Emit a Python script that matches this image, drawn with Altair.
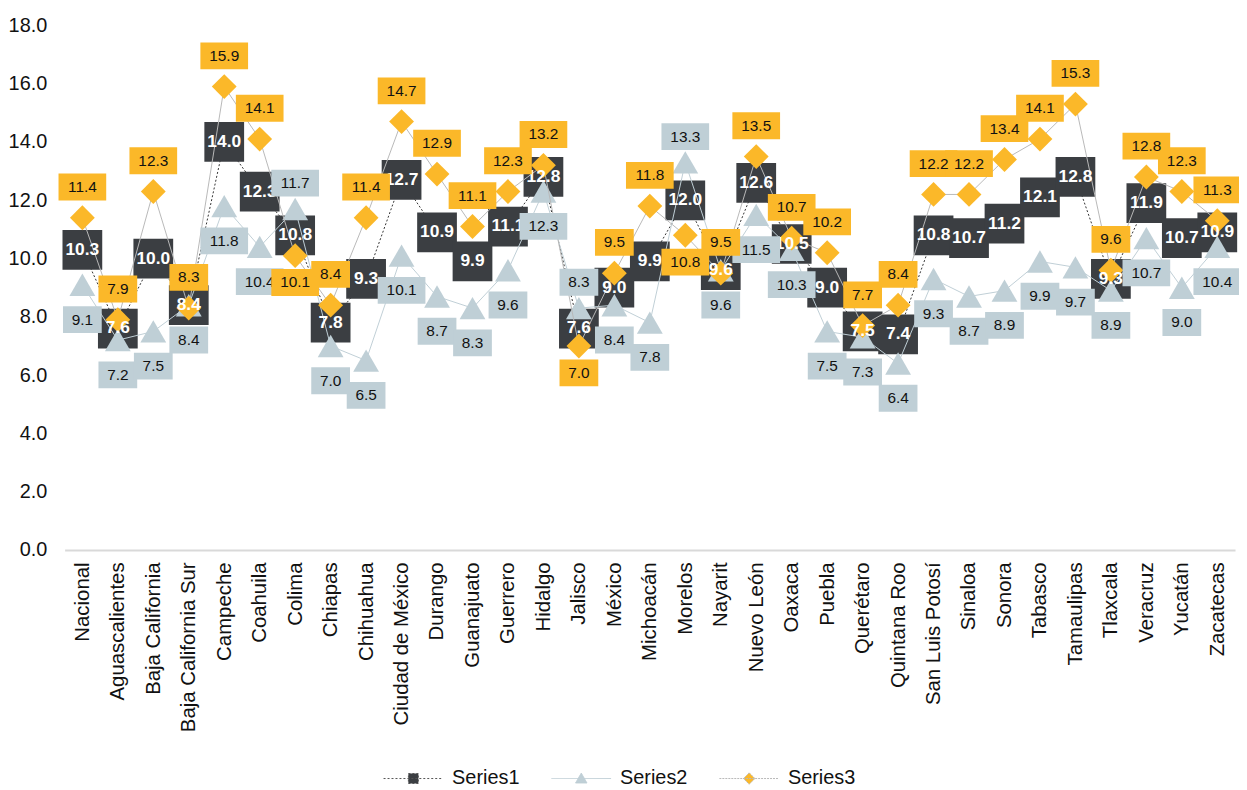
import json
import altair as alt
import pandas as pd

categories = [
    "Nacional", "Aguascalientes", "Baja California", "Baja California Sur", "Campeche",
    "Coahuila", "Colima", "Chiapas", "Chihuahua", "Ciudad de México", "Durango",
    "Guanajuato", "Guerrero", "Hidalgo", "Jalisco", "México", "Michoacán", "Morelos",
    "Nayarit", "Nuevo León", "Oaxaca", "Puebla", "Querétaro", "Quintana Roo",
    "San Luis Potosí", "Sinaloa", "Sonora", "Tabasco", "Tamaulipas", "Tlaxcala",
    "Veracruz", "Yucatán", "Zacatecas",
]
series1 = [10.3, 7.6, 10.0, 8.4, 14.0, 12.3, 10.8, 7.8, 9.3, 12.7, 10.9, 9.9, 11.1, 12.8,
           7.6, 9.0, 9.9, 12.0, 9.6, 12.6, 10.5, 9.0, 7.5, 7.4, 10.8, 10.7, 11.2, 12.1,
           12.8, 9.3, 11.9, 10.7, 10.9]
series2 = [9.1, 7.2, 7.5, 8.4, 11.8, 10.4, 11.7, 7.0, 6.5, 10.1, 8.7, 8.3, 9.6, 12.3,
           8.3, 8.4, 7.8, 13.3, 9.6, 11.5, 10.3, 7.5, 7.3, 6.4, 9.3, 8.7, 8.9, 9.9,
           9.7, 8.9, 10.7, 9.0, 10.4]
series3 = [11.4, 7.9, 12.3, 8.3, 15.9, 14.1, 10.1, 8.4, 11.4, 14.7, 12.9, 11.1, 12.3, 13.2,
           7.0, 9.5, 11.8, 10.8, 9.5, 13.5, 10.7, 10.2, 7.7, 8.4, 12.2, 12.2, 13.4, 14.1,
           15.3, 9.6, 12.8, 12.3, 11.3]
series_names = ["Series1", "Series2", "Series3"]
y_ticks = [0, 2, 4, 6, 8, 10, 12, 14, 16, 18]

# categories whose Series2/Series3 labels sit on the other side of the marker
flipped = ["Colima", "Jalisco", "Morelos"]

rows = []
for name, vals in zip(series_names, [series1, series2, series3]):
    for cat, v in zip(categories, vals):
        rows.append({"category": cat, "series": name, "value": v})
df = pd.DataFrame(rows)

DARK = "#3b3e42"
BLUE = "#bfcfd6"
GOLD = "#fbb829"
GRAY = "#b8b8b8"
FONT = "Liberation Sans"

flip_test = f"indexof({json.dumps(flipped)}, datum.category) >= 0"

base = alt.Chart(df).encode(
    x=alt.X("category:N", sort=categories, title=None,
            axis=alt.Axis(labelAngle=-90, labelFontSize=20.5, labelFont=FONT,
                          labelColor="#111111", ticks=False, domainColor="#d9d9d9",
                          domainWidth=2, labelPadding=12, grid=False)),
    y=alt.Y("value:Q", title=None,
            scale=alt.Scale(domain=[0, 18], nice=False, zero=True),
            axis=alt.Axis(values=y_ticks, format=".1f", labelFontSize=20, labelFont=FONT,
                          labelColor="#111111", ticks=False, domain=False, grid=False,
                          labelPadding=18)),
)


def only(series):
    return base.transform_filter(alt.datum.series == series)


line1 = only("Series1").mark_line(color="#333333", strokeWidth=1, strokeDash=[2, 2])
pts1 = only("Series1").mark_point(shape="square", filled=True, size=1600, color=DARK, opacity=1)
line2 = only("Series2").mark_line(color=BLUE, strokeWidth=1)
pts2 = only("Series2").mark_point(shape="triangle-up", filled=True, size=676, color=BLUE, opacity=1)
line3 = only("Series3").mark_line(color=GRAY, strokeWidth=1)
pts3 = only("Series3").mark_point(shape="diamond", filled=True, size=625, color=GOLD, opacity=1)

txt1 = only("Series1").mark_text(font=FONT, fontSize=17.5, fontWeight="bold", color="white",
                                 baseline="middle", align="center").encode(
    text=alt.Text("value:Q", format=".1f"))


def box_path(w, h, dy):
    s = w / 2.0
    y0 = (dy - h / 2.0) / s
    y1 = (dy + h / 2.0) / s
    return f"M-1,{y0:.4f}L1,{y0:.4f}L1,{y1:.4f}L-1,{y1:.4f}Z"


def labels(series, color, dy, flip):
    test = flip_test if flip else f"!({flip_test})"
    b = only(series).transform_filter(test).transform_calculate(
        label="format(datum.value, '.1f')")
    p3 = box_path(39, 27, dy)
    p4 = box_path(48, 27, dy)
    boxes = b.transform_calculate(
        shp=f"length(datum.label) > 3 ? '{p4}' : '{p3}'",
        sz=f"length(datum.label) > 3 ? {48 * 48} : {39 * 39}",
    ).mark_point(filled=True, color=color, opacity=1, strokeWidth=0).encode(
        shape=alt.Shape("shp:N", scale=None),
        size=alt.Size("sz:Q", scale=None),
    )
    texts = b.mark_text(font=FONT, fontSize=15.5, color="#111111", dy=dy,
                        baseline="middle", align="center").encode(text="label:N")
    return [boxes, texts]


lab2 = labels("Series2", BLUE, 35, False) + labels("Series2", BLUE, -26, True)
lab3 = labels("Series3", GOLD, -31, False) + labels("Series3", GOLD, 27, True)

# legend-only layer
leg_line = "M-1,0L11,0"
leg_shapes = [
    leg_line + "M4,-1L6,-1L6,1L4,1Z",
    leg_line + "M5,-1.1L6.15,0.9L3.85,0.9Z",
    leg_line + "M5,-1.15L6.15,0L5,1.15L3.85,0Z",
]
legend_def = alt.Legend(title=None, orient="none", legendX=316, legendY=748,
                        direction="horizontal", symbolSize=100, symbolStrokeWidth=1,
                        labelFontSize=20, labelFont=FONT, labelColor="#111111",
                        labelOffset=54, columnPadding=27, symbolOpacity=1, labelLimit=300)
legend_layer = alt.Chart(df).transform_filter("false").mark_point(filled=True).encode(
    fill=alt.Fill("series:N", scale=alt.Scale(domain=series_names, range=[DARK, BLUE, GOLD]),
                  legend=legend_def),
    stroke=alt.Stroke("series:N", scale=alt.Scale(domain=series_names, range=["#555555", BLUE, GRAY]),
                      legend=legend_def),
    shape=alt.Shape("series:N", scale=alt.Scale(domain=series_names, range=leg_shapes),
                    legend=legend_def),
    strokeDash=alt.StrokeDash("series:N",
                              scale=alt.Scale(domain=series_names, range=[[2, 2], [1, 0], [2, 1]]),
                              legend=legend_def),
)

chart = alt.layer(
    line1, pts1, line2, pts2, line3, pts3, txt1, *lab2, *lab3, legend_layer
).properties(
    width=1178, height=528,
    autosize=alt.AutoSizeParams(type="none"),
    padding={"left": 57, "top": 15, "right": 4, "bottom": 236},
).configure(background="white").configure_view(stroke=None)

chart.save("out.html", embed_options={"renderer": "svg", "actions": False})
